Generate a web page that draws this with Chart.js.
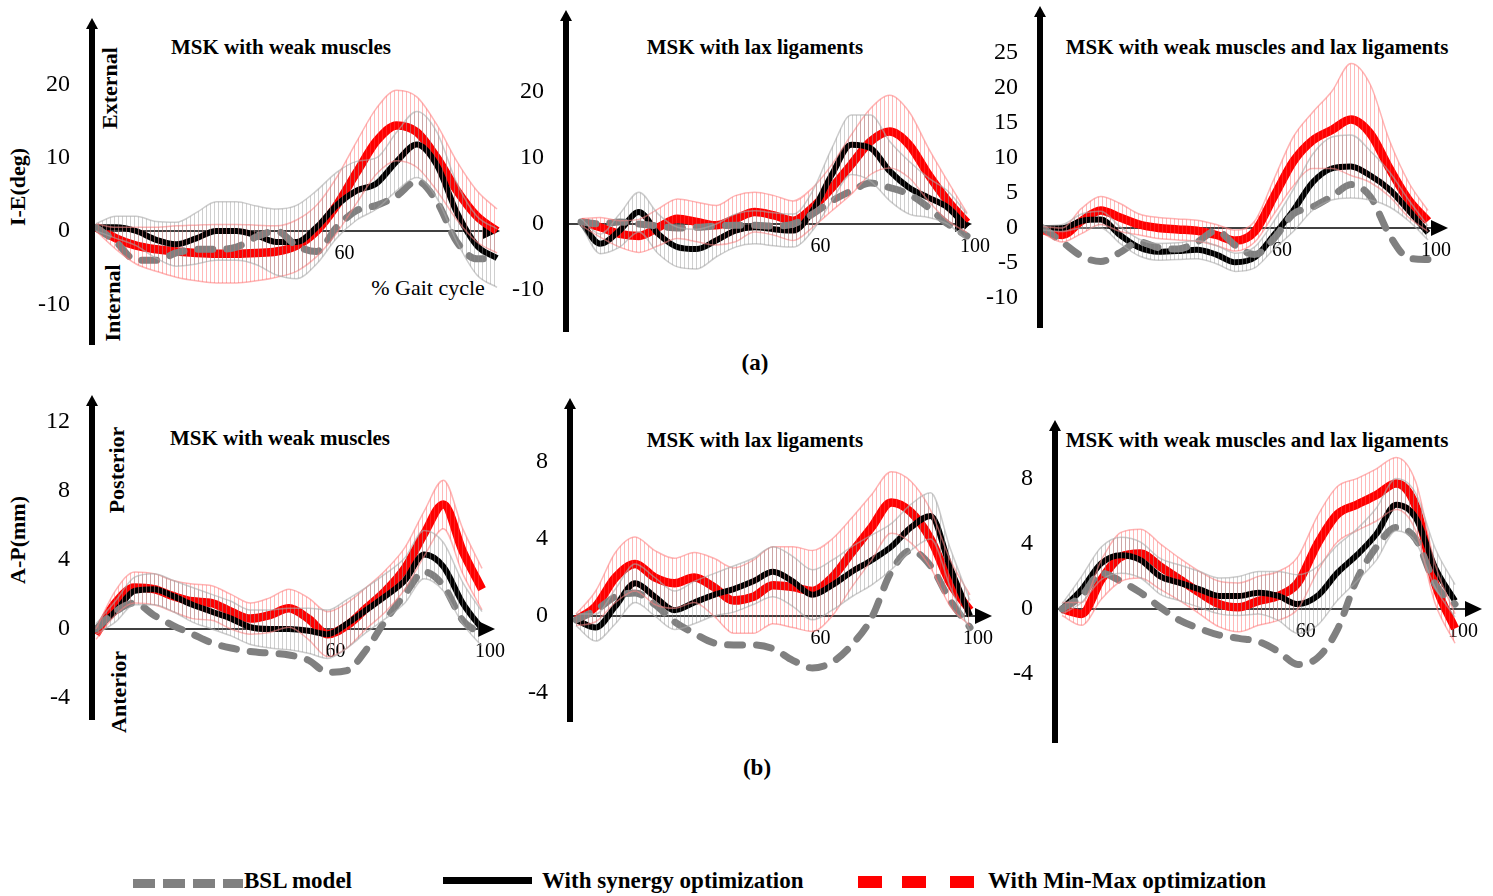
<!DOCTYPE html>
<html>
<head>
<meta charset="utf-8">
<script src="https://cdn.jsdelivr.net/npm/chart.js@4.4.1/dist/chart.umd.min.js"></script>
<style>
  body { margin: 0; background: #fff; width: 1493px; height: 896px; position: relative; overflow: hidden;
         font-family: "Liberation Serif", "Times New Roman", serif; }
  canvas { position: absolute; }
  .t { position: absolute; white-space: nowrap; color: #000; transform: translate(-50%, -50%); }
  .title { font-weight: bold; font-size: 21px; }
  .rot { font-weight: bold; font-size: 22px; transform: translate(-50%, -50%) rotate(-90deg); }
  .cap { font-weight: bold; font-size: 23px; }
  .leg { position: absolute; font-weight: bold; font-size: 23px; top: 868px; white-space: nowrap; }
  .mk { position: absolute; }
</style>
</head>
<body>

<div class="t title" style="left:281px;top:47px">MSK with weak muscles</div>
<div class="t title" style="left:755px;top:47px">MSK with lax ligaments</div>
<div class="t title" style="left:1257px;top:47px">MSK with weak muscles and lax ligaments</div>
<div class="t title" style="left:280px;top:438px">MSK with weak muscles</div>
<div class="t title" style="left:755px;top:440px">MSK with lax ligaments</div>
<div class="t title" style="left:1257px;top:440px">MSK with weak muscles and lax ligaments</div>

<div class="t rot" style="left:18px;top:187px">I-E(deg)</div>
<div class="t rot" style="left:18px;top:540px">A-P(mm)</div>
<div class="t rot" style="left:110px;top:88px">External</div>
<div class="t rot" style="left:113px;top:303px">Internal</div>
<div class="t rot" style="left:117px;top:470px">Posterior</div>
<div class="t rot" style="left:119px;top:692px">Anterior</div>
<div class="t" style="left:428px;top:288px;font-size:22px">% Gait cycle</div>
<div class="t cap" style="left:755px;top:363px">(a)</div>
<div class="t cap" style="left:757px;top:768px">(b)</div>

<!-- legend -->
<div class="mk" style="left:133px;top:879px;width:22px;height:9px;background:#808080"></div>
<div class="mk" style="left:163px;top:879px;width:22px;height:9px;background:#808080"></div>
<div class="mk" style="left:193px;top:879px;width:22px;height:9px;background:#808080"></div>
<div class="mk" style="left:223px;top:879px;width:20px;height:9px;background:#808080"></div>
<div class="leg" style="left:244px">BSL model</div>
<div class="mk" style="left:443px;top:877px;width:89px;height:7px;background:#000"></div>
<div class="leg" style="left:542px">With synergy optimization</div>
<div class="mk" style="left:858px;top:876px;width:24px;height:12px;background:#f00"></div>
<div class="mk" style="left:902px;top:876px;width:24px;height:12px;background:#f00"></div>
<div class="mk" style="left:950px;top:876px;width:24px;height:12px;background:#f00"></div>
<div class="leg" style="left:988px">With Min-Max optimization</div>

<script>
// % gait cycle, every 5 %
const gaitPct = [0, 5, 10, 15, 20, 25, 30, 35, 40, 45, 50, 55, 60, 65, 70, 75, 80, 85, 90, 95, 100];

// (a) I-E rotation, weak muscles
const ieWeakBsl   = [0.5, -1.5, -4.0, -4.0, -3.0, -2.5, -2.5, -2.2, -0.8, 0.0, -2.0, -2.8, 0.5, 2.8, 3.5, 4.8, 6.8, 4.0, -1.5, -3.8, -3.8];
const ieWeakSyn   = [0.5, 0.5, 0.0, -1.2, -1.8, -1.0, 0.0, 0.0, -0.6, -1.5, -1.5, 0.5, 3.5, 5.5, 6.5, 9.5, 11.8, 9.0, 2.5, -2.0, -3.7];
const ieWeakSynSd = [0.5, 1.5, 2.0, 2.5, 3.0, 3.5, 4.0, 4.0, 4.0, 4.5, 5.0, 5.0, 4.5, 4.0, 3.5, 4.0, 4.5, 4.5, 4.0, 4.0, 4.0];
const ieWeakMm    = [0.5, -1.0, -2.0, -2.5, -2.8, -3.0, -3.1, -3.1, -3.0, -2.8, -2.0, 0.0, 3.5, 8.0, 12.3, 14.4, 13.5, 10.0, 5.5, 2.0, 0.0];
const ieWeakMmSd  = [0.5, 1.5, 2.5, 3.0, 3.5, 3.8, 4.0, 4.0, 3.8, 3.5, 3.5, 3.5, 3.8, 4.2, 4.5, 4.8, 4.8, 4.5, 4.0, 3.5, 3.0];

// (a) I-E rotation, lax ligaments
const ieLaxBsl   = [0.3, 0.0, 0.3, 0.0, -0.3, -0.6, -0.5, -0.3, -0.2, -0.2, -0.3, 0.0, 1.5, 3.5, 5.0, 6.2, 5.5, 4.5, 2.5, 0.0, -1.8];
const ieLaxSyn   = [0.3, -3.0, -1.0, 1.8, -1.5, -3.5, -3.8, -2.5, -1.0, -0.5, -0.8, -1.0, 2.0, 7.5, 12.0, 11.5, 8.0, 5.5, 4.0, 2.5, -0.5];
const ieLaxSynSd = [0.5, 1.5, 2.5, 3.0, 3.0, 3.0, 3.0, 2.5, 2.5, 2.5, 2.5, 2.5, 3.0, 4.0, 4.5, 5.0, 4.5, 4.0, 3.0, 2.5, 2.0];
const ieLaxMm    = [0.3, -0.5, -1.5, -1.8, -0.5, 0.8, 0.3, -0.2, 0.8, 1.8, 1.3, 0.5, 2.5, 5.5, 9.0, 12.5, 14.0, 12.0, 7.5, 3.5, 0.2];
const ieLaxMmSd  = [0.5, 1.5, 2.0, 2.5, 2.8, 3.0, 3.0, 3.0, 3.5, 3.0, 3.0, 3.0, 3.0, 3.5, 4.5, 5.0, 5.5, 5.0, 4.0, 3.0, 1.5];

// (a) I-E rotation, weak muscles and lax ligaments
const ieBothBsl   = [0.0, -2.0, -4.0, -4.8, -3.5, -2.0, -2.8, -3.0, -2.0, -0.4, -2.5, -3.8, -1.5, 2.0, 3.0, 4.5, 6.2, 4.5, -1.0, -4.3, -4.5];
const ieBothSyn   = [0.0, 0.0, 1.0, 1.2, -1.0, -2.8, -3.4, -3.3, -3.1, -3.8, -4.9, -4.2, -1.0, 2.5, 6.5, 8.5, 8.8, 7.5, 5.5, 2.5, -0.7];
const ieBothSynSd = [0.3, 0.5, 1.0, 1.2, 1.2, 1.2, 1.2, 1.2, 1.3, 1.3, 1.3, 1.5, 2.0, 3.0, 4.0, 4.5, 4.5, 3.5, 2.5, 1.5, 1.0];
const ieBothMm    = [-0.3, -1.0, 1.0, 2.5, 1.5, 0.5, 0.0, -0.2, -0.4, -1.0, -1.8, -0.5, 4.5, 9.5, 12.5, 14.0, 15.5, 13.5, 8.5, 4.0, 1.0];
const ieBothMmSd  = [0.5, 1.0, 1.8, 2.0, 2.0, 1.5, 1.5, 1.5, 1.5, 1.5, 1.5, 1.5, 2.5, 3.5, 4.0, 5.5, 8.0, 7.0, 4.0, 2.5, 1.5];

// (b) A-P translation, weak muscles
const apWeakBsl   = [0.0, 1.0, 1.5, 0.8, 0.2, -0.3, -0.8, -1.1, -1.3, -1.4, -1.5, -1.8, -2.5, -2.4, -1.2, 0.5, 2.0, 3.3, 2.5, 0.5, -0.3];
const apWeakSyn   = [0.0, 1.0, 2.2, 2.3, 1.9, 1.4, 1.0, 0.6, 0.1, 0.0, 0.0, -0.1, -0.3, 0.3, 1.1, 1.9, 2.8, 4.3, 3.6, 1.5, 0.0];
const apWeakSynSd = [0.3, 0.6, 0.8, 0.9, 0.9, 1.0, 1.0, 1.0, 1.0, 1.1, 1.2, 1.3, 1.4, 1.4, 1.3, 1.3, 1.3, 1.4, 1.4, 1.2, 1.0];
const apWeakMm    = [-0.3, 1.5, 2.4, 2.3, 1.9, 1.6, 1.5, 1.0, 0.6, 0.8, 1.2, 0.6, -0.3, 0.2, 1.2, 2.2, 3.5, 5.5, 7.2, 4.5, 2.3];
const apWeakMmSd  = [0.3, 0.7, 0.9, 0.9, 0.9, 1.0, 1.0, 1.0, 0.9, 1.0, 1.1, 1.2, 1.3, 1.3, 1.2, 1.2, 1.2, 1.3, 1.4, 1.3, 1.2];

// (b) A-P translation, lax ligaments
const apLaxBsl   = [-0.2, 0.3, 1.0, 1.2, 0.6, -0.3, -0.9, -1.4, -1.5, -1.5, -1.7, -2.3, -2.7, -2.4, -1.5, -0.1, 2.3, 3.4, 2.6, 0.8, -0.6];
const apLaxSyn   = [-0.2, -0.6, 0.5, 1.7, 1.0, 0.3, 0.7, 1.1, 1.4, 1.8, 2.3, 1.8, 1.1, 1.6, 2.3, 2.9, 3.6, 4.6, 5.2, 2.5, 0.0];
const apLaxSynSd = [0.3, 0.7, 0.9, 1.0, 1.0, 1.0, 1.1, 1.1, 1.2, 1.2, 1.3, 1.3, 1.3, 1.3, 1.3, 1.3, 1.2, 1.2, 1.2, 1.0, 0.8];
const apLaxMm    = [-0.2, 0.5, 2.0, 2.7, 2.0, 1.7, 2.0, 1.5, 0.8, 1.0, 1.6, 1.5, 1.3, 2.0, 3.3, 4.6, 5.9, 5.4, 4.0, 1.7, 0.3];
const apLaxMmSd  = [0.3, 0.8, 1.3, 1.4, 1.4, 1.3, 1.3, 1.5, 1.7, 1.9, 2.0, 2.1, 2.1, 2.0, 1.8, 1.7, 1.6, 1.6, 1.5, 1.2, 0.8];

// (b) A-P translation, weak muscles and lax ligaments
const apBothBsl   = [0.0, 0.8, 2.2, 1.7, 1.0, 0.1, -0.7, -1.2, -1.6, -1.8, -2.0, -2.6, -3.4, -3.0, -1.3, 1.8, 3.8, 5.0, 4.3, 1.5, 0.3];
const apBothSyn   = [0.0, 1.2, 2.8, 3.3, 3.0, 2.0, 1.6, 1.2, 0.8, 0.8, 1.0, 0.8, 0.3, 0.8, 2.2, 3.3, 4.6, 6.4, 5.6, 2.5, 0.5];
const apBothSynSd = [0.3, 0.8, 1.0, 1.1, 1.1, 1.1, 1.1, 1.1, 1.1, 1.2, 1.3, 1.5, 1.8, 1.8, 1.7, 1.6, 1.6, 1.6, 1.5, 1.2, 1.0];
const apBothMm    = [0.0, -0.3, 1.8, 3.2, 3.4, 2.6, 1.8, 1.0, 0.3, 0.1, 0.5, 0.8, 1.6, 4.0, 5.8, 6.4, 7.0, 7.7, 6.3, 1.5, -1.2];
const apBothMmSd  = [0.4, 0.7, 1.2, 1.5, 1.5, 1.4, 1.3, 1.3, 1.4, 1.5, 1.5, 1.5, 1.6, 1.7, 1.7, 1.6, 1.6, 1.6, 1.5, 1.2, 0.9];

// tick labels
const ieTicks     = [-10, 0, 10, 20];
const ieBothTicks = [-10, -5, 0, 5, 10, 15, 20, 25];
const apWeakTicks = [-4, 0, 4, 8, 12];
const apTicks     = [-4, 0, 4, 8];
const xTicksFirst = [60];
const xTicks      = [60, 100];

// where each panel sits on the page (pixels)
const panels = [
  { bsl: ieWeakBsl, syn: ieWeakSyn, synSd: ieWeakSynSd, mm: ieWeakMm, mmSd: ieWeakMmSd, yTicks: ieTicks, xTicks: xTicksFirst,
    box: { axisX: 92, top: 20, bottom: 345, x0: 96, x100: 497, tip: 500, zero: 231, ppu: 7.33 } },
  { bsl: ieLaxBsl, syn: ieLaxSyn, synSd: ieLaxSynSd, mm: ieLaxMm, mmSd: ieLaxMmSd, yTicks: ieTicks, xTicks: xTicks,
    box: { axisX: 566, top: 12, bottom: 332, x0: 581, x100: 967, tip: 972, zero: 224, ppu: 6.6 } },
  { bsl: ieBothBsl, syn: ieBothSyn, synSd: ieBothSynSd, mm: ieBothMm, mmSd: ieBothMmSd, yTicks: ieBothTicks, xTicks: xTicks,
    box: { axisX: 1040, top: 8, bottom: 328, x0: 1043, x100: 1428, tip: 1448, zero: 228, ppu: 7.0 } },
  { bsl: apWeakBsl, syn: apWeakSyn, synSd: apWeakSynSd, mm: apWeakMm, mmSd: apWeakMmSd, yTicks: apWeakTicks, xTicks: xTicks,
    box: { axisX: 92, top: 397, bottom: 720, x0: 96, x100: 482, tip: 495, zero: 629, ppu: 17.3 } },
  { bsl: apLaxBsl, syn: apLaxSyn, synSd: apLaxSynSd, mm: apLaxMm, mmSd: apLaxMmSd, yTicks: apTicks, xTicks: xTicks,
    box: { axisX: 570, top: 400, bottom: 722, x0: 576, x100: 970, tip: 992, zero: 616, ppu: 19.25 } },
  { bsl: apBothBsl, syn: apBothSyn, synSd: apBothSynSd, mm: apBothMm, mmSd: apBothMmSd, yTicks: apTicks, xTicks: xTicks,
    box: { axisX: 1055, top: 422, bottom: 743, x0: 1062, x100: 1455, tip: 1482, zero: 609, ppu: 16.3 } }
];

const W = 70, P = 24;
const serif = '"Liberation Serif", "Times New Roman", serif';

// vertical hatch to look like the dense error bars
function hatch(color) {
  const c = document.createElement('canvas');
  c.width = 4; c.height = 4;
  const g = c.getContext('2d');
  g.fillStyle = color;
  g.fillRect(0, 0, 1, 4);
  return g.createPattern(c, 'repeat');
}
const grayHatch = hatch('rgba(140,140,140,0.42)');
const pinkHatch = hatch('rgba(255,80,80,0.4)');

// thick vertical axis + thin zero line, both with arrow heads
const axisArrows = {
  id: 'axisArrows',
  beforeDatasetsDraw(chart) {
    const { ctx, chartArea: a } = chart;
    const y0 = chart.scales.y.getPixelForValue(0);
    ctx.save();
    ctx.fillStyle = '#000';
    ctx.strokeStyle = '#000';
    ctx.lineWidth = 1.5;
    ctx.beginPath();
    ctx.moveTo(a.left, y0);
    ctx.lineTo(a.right - 12, y0);
    ctx.stroke();
    ctx.beginPath();
    ctx.moveTo(a.right, y0);
    ctx.lineTo(a.right - 17, y0 - 8);
    ctx.lineTo(a.right - 17, y0 + 8);
    ctx.closePath();
    ctx.fill();
    ctx.restore();
  },
  afterDraw(chart) {
    const { ctx, chartArea: a } = chart;
    ctx.save();
    ctx.fillStyle = '#000';
    ctx.fillRect(a.left - 3, a.top + 6, 6, a.bottom - a.top - 6);
    ctx.beginPath();
    ctx.moveTo(a.left, a.top - 2);
    ctx.lineTo(a.left - 6, a.top + 9);
    ctx.lineTo(a.left + 6, a.top + 9);
    ctx.closePath();
    ctx.fill();
    ctx.restore();
  }
};

function makePanel(p) {
  const b = p.box;
  const cv = document.createElement('canvas');
  const w = W + (b.tip - b.axisX) + P;
  const h = (b.bottom - b.top) + 2 * P;
  cv.width = w; cv.height = h;
  cv.style.width = w + 'px'; cv.style.height = h + 'px';
  cv.style.left = (b.axisX - W) + 'px';
  cv.style.top = (b.top - P) + 'px';
  document.body.appendChild(cv);

  const pxX = (b.x100 - b.x0) / 100;
  const pts = arr => arr.map((v, i) => ({ x: gaitPct[i], y: v }));
  const band = (m, sd, s) => m.map((v, i) => ({ x: gaitPct[i], y: v + s * sd[i] }));
  const edge = (c) => ({ borderColor: c, borderWidth: 1.5, pointRadius: 0, clip: false });

  new Chart(cv, {
    type: 'line',
    data: {
      datasets: [
        Object.assign({ data: band(p.syn, p.synSd, 1), backgroundColor: grayHatch, fill: '+1' }, edge('rgba(170,170,170,0.6)')),
        Object.assign({ data: band(p.syn, p.synSd, -1), fill: false }, edge('rgba(170,170,170,0.6)')),
        Object.assign({ data: band(p.mm, p.mmSd, 1), backgroundColor: pinkHatch, fill: '+1' }, edge('rgba(255,130,130,0.6)')),
        Object.assign({ data: band(p.mm, p.mmSd, -1), fill: false }, edge('rgba(255,130,130,0.6)')),
        { label: 'BSL model', data: pts(p.bsl), borderColor: '#808080', borderWidth: 7,
          borderDash: [15, 14], borderCapStyle: 'round', fill: false, clip: false },
        { label: 'With synergy optimization', data: pts(p.syn), borderColor: '#000', borderWidth: 6, fill: false, clip: false },
        { label: 'With Min-Max optimization', data: pts(p.mm), borderColor: '#ff0000', borderWidth: 8.5,
          fill: false, clip: false }
      ]
    },
    options: {
      responsive: false,
      animation: false,
      devicePixelRatio: 1,
      layout: { padding: { left: 0, right: P, top: P, bottom: P } },
      elements: { point: { radius: 0 }, line: { cubicInterpolationMode: 'monotone' } },
      plugins: { legend: { display: false }, tooltip: { enabled: false } },
      scales: {
        x: {
          type: 'linear',
          min: (b.axisX - b.x0) / pxX,
          max: (b.tip - b.x0) / pxX,
          position: { y: 0 },
          grid: { display: false },
          border: { display: false },
          afterBuildTicks: s => { s.ticks = p.xTicks.map(v => ({ value: v })); },
          afterFit: s => { s.paddingLeft = 0; s.paddingRight = 0; },
          ticks: { font: { family: serif, size: 20 }, color: '#000', padding: 3,
                   labelOffset: 8, maxRotation: 0, autoSkip: false }
        },
        y: {
          type: 'linear',
          min: (b.zero - b.bottom) / b.ppu,
          max: (b.zero - b.top) / b.ppu,
          grid: { display: false },
          border: { display: false },
          afterBuildTicks: s => { s.ticks = p.yTicks.map(v => ({ value: v })); },
          afterFit: s => { s.width = W; s.paddingTop = 0; s.paddingBottom = 0; },
          ticks: { font: { family: serif, size: 24 }, color: '#000', padding: 14, autoSkip: false }
        }
      }
    },
    plugins: [axisArrows]
  });
}

panels.forEach(makePanel);
</script>
</body>
</html>
